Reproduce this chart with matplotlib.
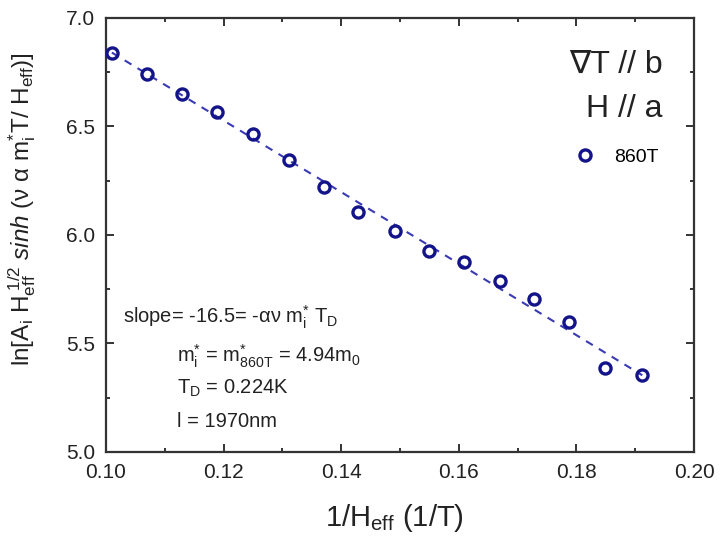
import numpy as np
import matplotlib
matplotlib.use("Agg")
import matplotlib.pyplot as plt
from matplotlib.ticker import MultipleLocator

plt.rcParams['font.family'] = ['Liberation Sans', 'DejaVu Sans']
plt.rcParams['mathtext.fontset'] = 'custom'
plt.rcParams['mathtext.rm'] = 'Liberation Sans'
plt.rcParams['mathtext.it'] = 'Liberation Sans:italic'
plt.rcParams['mathtext.bf'] = 'Liberation Sans:bold'

# Data
inv_h = [0.1010, 0.1070, 0.1129, 0.1189, 0.1250, 0.1311, 0.1371, 0.1428,
         0.1491, 0.1549, 0.1609, 0.1670, 0.1728, 0.1787, 0.1849, 0.1912]
ln_amp = [6.840, 6.741, 6.650, 6.568, 6.464, 6.344, 6.220, 6.105,
          6.020, 5.928, 5.877, 5.788, 5.704, 5.598, 5.389, 5.356]
series_label = "860T"
xticks = [0.10, 0.12, 0.14, 0.16, 0.18, 0.20]
yticks = [5.0, 5.5, 6.0, 6.5, 7.0]

axis_col = '#333333'
mark_col = '#14148a'
fit_col = '#3a3ab4'

fig = plt.figure(figsize=(7.2, 5.42), dpi=100)
ax = fig.add_axes([0.1472, 0.1661, 0.8167, 0.8007])

x = np.array(inv_h)
y = np.array(ln_amp)
k, b = np.polyfit(x, y, 1)
xf = np.array([x[0], x[-1]])
ax.plot(xf, k * xf + b, color=fit_col, lw=1.5, dashes=(3.8, 3.4), zorder=2)
ax.plot(x, y, ls='none', marker='o', ms=8, mfc='none', mec=mark_col,
        mew=2.4, label=series_label, zorder=3)

ax.set_xlim(0.10, 0.20)
ax.set_ylim(5.0, 7.0)
ax.set_xticks(xticks)
ax.set_yticks(yticks)
ax.set_xticklabels([f"{v:.2f}" for v in xticks])
ax.set_yticklabels([f"{v:.1f}" for v in yticks])
ax.xaxis.set_minor_locator(MultipleLocator(0.01))
ax.yaxis.set_minor_locator(MultipleLocator(0.25))

for s in ax.spines.values():
    s.set_linewidth(1.6)
    s.set_color(axis_col)
ax.tick_params(which='both', direction='in', top=True, right=True,
               color=axis_col, width=1.4)
ax.tick_params(which='major', length=5.5, labelsize=15, labelcolor='#222222')
ax.tick_params(which='minor', length=3)
ax.tick_params(axis='x', which='major', pad=8)
ax.tick_params(axis='y', which='major', pad=8)

ax.set_xlabel(r'1/H$_{\mathrm{eff}}$ (1/T)', fontsize=21, color='#222222')
ax.xaxis.set_label_coords(0.49, -0.115)
ax.set_ylabel(r'ln[A$_{\mathrm{i}}$ H$_{\mathrm{eff}}^{\ \mathrm{1/2}}$ $\mathit{sinh}$ (ν α m$_{\mathrm{i}}^{*}$T/ H$_{\mathrm{eff}}$)]',
              fontsize=17.5, color='#222222')
ax.yaxis.set_label_coords(-0.115, 0.56)

ax.text(0.1946, 6.747, '∇T // b', fontsize=23, ha='right', va='baseline', color='#222222')
ax.text(0.1946, 6.544, 'H // a', fontsize=23, ha='right', va='baseline', color='#222222')

tc = '#222222'
ax.text(0.1029, 5.594, r'slope= -16.5= -αν m$_{\mathrm{i}}^{*}$ T$_{\mathrm{D}}$', fontsize=14.5, ha='left', va='baseline', color=tc)
ax.text(0.1121, 5.415, r'm$_{\mathrm{i}}^{*}$ = m$_{\mathrm{860T}}^{*}$ = 4.94m$_{\mathrm{0}}$', fontsize=14.5, ha='left', va='baseline', color=tc)
ax.text(0.1121, 5.267, r'T$_{\mathrm{D}}$ = 0.224K', fontsize=14.5, ha='left', va='baseline', color=tc)
ax.text(0.1121, 5.115, 'l = 1970nm', fontsize=14.5, ha='left', va='baseline', color=tc)

ax.legend(loc='upper left', bbox_to_anchor=(0.798, 0.70), frameon=False,
          fontsize=14, handlelength=1.0, handletextpad=1.0, borderpad=0,
          borderaxespad=0)

fig.savefig('out.png', dpi=100)
